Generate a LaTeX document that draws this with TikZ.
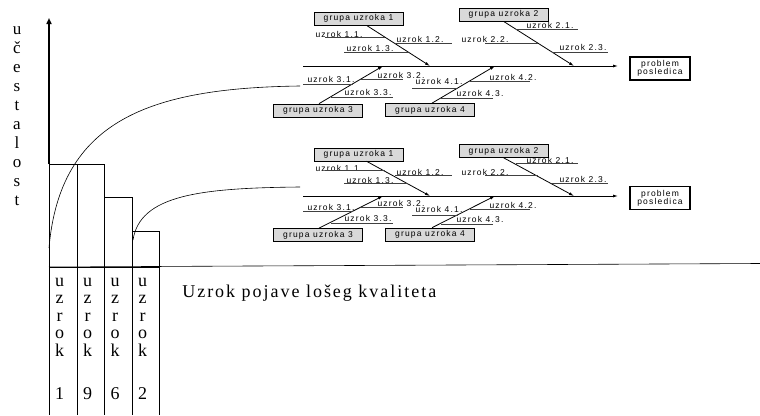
\documentclass[tikz,border=0pt]{standalone}
\usepackage{fontspec}
\setmainfont{Liberation Serif}
\newfontfamily\fishfont[LetterSpace=14]{Liberation Sans}
\newfontfamily\naslovfont[LetterSpace=11]{Liberation Serif}
\usetikzlibrary{arrows.meta}

\tikzset{
  grupa/.style={draw, line width=0.7pt, fill=gray!30,
    font=\fishfont\fontsize{8.5}{9}\selectfont,
    inner sep=0pt, minimum width=89pt, minimum height=13pt},
  posledica/.style={draw, line width=1.2pt, fill=white, align=center,
    font=\fishfont\fontsize{8.5}{8.5}\selectfont, inner sep=0pt,
    minimum width=60pt, minimum height=23pt},
  uzrok/.style={font=\fishfont\fontsize{8.5}{9}\selectfont, inner sep=0pt},
  kost/.style={-{Latex[length=5pt,width=3pt]}, line width=0.8pt},
  linija/.style={line width=0.9pt, black!75},
  slovo/.style={font=\fontsize{18}{18}\selectfont, inner sep=0pt, anchor=base},
}

% riba: #1 = prefix of the node names
\newcommand{\riba}[1]{%
  \node[grupa] (#1g1) at (358.5,-47.5) {grupa uzroka 1};
  \node[grupa] (#1g2) at (503.5,-51.5) {grupa uzroka 2};
  \node[grupa] (#1g3) at (318,44.5) {grupa uzroka 3};
  \node[grupa] (#1g4) at (430,44) {grupa uzroka 4};
  \node[posledica] (#1p) at (660,2.5) {problem\\posledica};
  \coordinate (#1s) at (303,0);
  \coordinate (#1e) at (618,0);
  \coordinate (#1k1) at (430,0);
  \coordinate (#1k2) at (574,0);
  \coordinate (#1k3) at (383,0);
  \coordinate (#1k4) at (495,0);
  \draw[kost] (#1s) -- (#1e);
  \draw[kost] ([xshift=8pt]#1g1.south) -- (#1k1);
  \draw[kost] (#1g2.south) -- (#1k2);
  \draw[kost] ([xshift=1pt]#1g3.north) -- (#1k3);
  \draw[kost] ([xshift=2pt]#1g4.north) -- (#1k4);
  % uzroci
  \foreach \t/\x/\y/\ya/\xa/\xb in {1.1/339/-32/-29/325/385,
      1.2/420/-27/-23/395/452, 1.3/370/-18/-14/344/408,
      2.1/550/-41/-37/516/578, 2.2/485/-27/-23/485/538,
      2.3/583/-19/-14/552/608, 3.1/331/13/18/303/353,
      3.2/401/9/13/361/403, 3.3/368/26/31/331/393,
      4.1/439/15/22/412/458, 4.2/513/11/15/470/530,
      4.3/480/27/32/441/493}{
    \node[uzrok] (#1u\t) at (\x,\y) {uzrok \t.};
    \draw[linija] (\xa,\ya) -- (\xb,\ya);
  }
}

\begin{document}
\begin{tikzpicture}[x=1pt, y=-1pt, line width=0.6pt]
\useasboundingbox (0,0) rectangle (760,415);
% ose
\coordinate (O) at (49,267);
\coordinate (Y) at (49,18);
\coordinate (X) at (760,263.5);
\draw (O) -- (X);
\draw[line width=1.6pt, -{Triangle[length=6pt,width=5pt]}] (49,164) -- (Y);
% stubici
\draw (49,164) rectangle (77,267);
\draw (77,164) rectangle (104,267);
\draw (104,197) rectangle (132,267);
\draw (132,231) rectangle (159,267);
\foreach \x in {49,77,104,132,159}
  \draw (\x,267) -- (\x,415);
\foreach \x/\d in {59.5/1,87.5/9,115/6,142.5/2}{
  \foreach \c [count=\i] in {u,z,r,o,k}
    \node[slovo] at (\x,286+17.5*\i-17.5) {\c};
  \node[slovo] at (\x,399) {\d};
}
\foreach \c [count=\i] in {u,č,e,s,t,a,l,o,s,t}
  \node[slovo, font=\fontsize{17}{17}\selectfont] at (17,34+19*\i-19) {\c};
\node[slovo, anchor=base west, font=\naslovfont\fontsize{18}{18}\selectfont]
  (naslov) at (182,297) {Uzrok pojave lošeg kvaliteta};
% krive
\draw (49,248) .. controls (60,120) and (150,88) .. (300,86);
\draw (133,240) .. controls (140,195) and (200,188) .. (300,187);
% dijagrami
\begin{scope}[shift={(0,66)}]
  \riba{a}
\end{scope}
\begin{scope}[shift={(0,196)}, yscale=0.876]
  \riba{b}
\end{scope}
\end{tikzpicture}
\end{document}
